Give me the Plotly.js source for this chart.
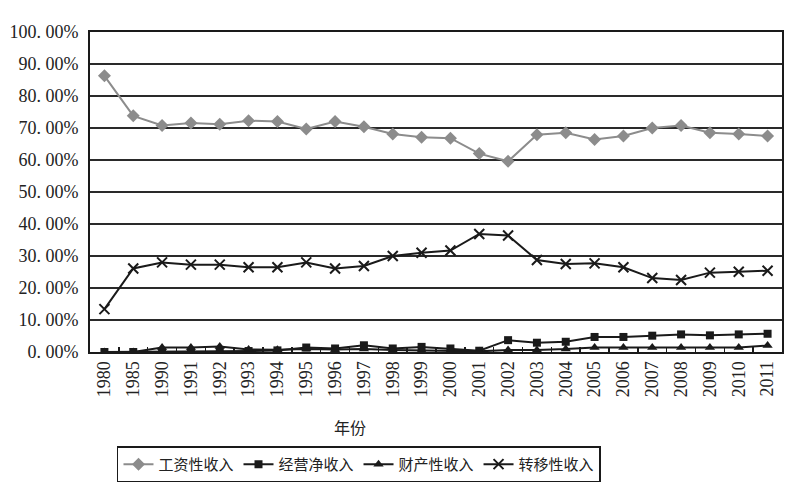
<!DOCTYPE html>
<html>
<head>
<meta charset="utf-8">
<script src="https://cdn.plot.ly/plotly-3.0.1.min.js"></script>
<style>html,body{margin:0;padding:0;background:#fff;}#chart{width:810px;height:500px;}</style>
</head>
<body>
<div id="chart"></div>
<script>
var years = ['1980','1985','1990','1991','1992','1993','1994','1995','1996','1997','1998','1999','2000','2001','2002','2003','2004','2005','2006','2007','2008','2009','2010','2011'];
var wageIncome = [86.3,73.8,70.8,71.6,71.2,72.3,72.0,69.7,72.0,70.4,68.1,67.1,66.8,62.0,59.6,67.9,68.5,66.4,67.5,70.0,70.8,68.5,68.1,67.5];
var businessIncome = [0.0,0.0,0.2,0.2,0.2,0.3,0.5,1.4,1.1,2.1,1.1,1.6,1.1,0.4,3.7,2.9,3.2,4.7,4.7,5.1,5.5,5.2,5.5,5.7];
var propertyIncome = [0.0,0.0,1.4,1.4,1.7,0.8,0.7,0.9,0.8,0.9,0.6,0.5,0.4,0.2,0.6,0.6,0.9,1.4,1.4,1.4,1.4,1.4,1.4,2.0];
var transferIncome = [13.4,26.1,28.0,27.3,27.3,26.5,26.5,28.0,26.1,26.9,30.0,31.0,31.7,36.9,36.4,28.75,27.5,27.7,26.5,23.1,22.5,24.8,25.1,25.4];
var seriesNames = ['工资性收入','经营净收入','财产性收入','转移性收入'];
var yTickVals = [0,10,20,30,40,50,60,70,80,90,100];
var yTickText = ['0. 00%','10. 00%','20. 00%','30. 00%','40. 00%','50. 00%','60. 00%','70. 00%','80. 00%','90. 00%','100. 00%'];
var xAxisTitle = '年份';

var serif = 'Liberation Serif, Noto Sans CJK SC, serif';
var cjk = 'Noto Sans CJK SC, sans-serif';

var traces = [
  {x: years, y: wageIncome, name: seriesNames[0], type: 'scatter', mode: 'lines+markers',
   line: {color: '#8c8c8c', width: 2}, marker: {symbol: 'diamond', size: 10, color: '#8c8c8c'}},
  {x: years, y: businessIncome, name: seriesNames[1], type: 'scatter', mode: 'lines+markers',
   line: {color: '#1a1a1a', width: 2}, marker: {symbol: 'square', size: 8, color: '#1a1a1a'}},
  {x: years, y: propertyIncome, name: seriesNames[2], type: 'scatter', mode: 'lines+markers',
   line: {color: '#1a1a1a', width: 2}, marker: {symbol: 'triangle-up', size: 9, color: '#1a1a1a'}},
  {x: years, y: transferIncome, name: seriesNames[3], type: 'scatter', mode: 'lines+markers',
   line: {color: '#1a1a1a', width: 2}, marker: {symbol: 'x-thin-open', size: 10, color: '#1a1a1a', line: {width: 2, color: '#1a1a1a'}}}
];

var layout = {
  width: 810, height: 500,
  margin: {l: 90, r: 28, t: 32, b: 148},
  paper_bgcolor: '#fff', plot_bgcolor: '#fff',
  showlegend: true,
  xaxis: {
    type: 'category', categoryorder: 'array', categoryarray: years,
    range: [-0.5, years.length - 0.5], autorange: false,
    tickangle: -90, tickson: 'boundaries', ticks: 'inside', ticklen: 5, tickwidth: 1.5, tickcolor: '#1a1a1a',
    showline: true, linecolor: '#1a1a1a', linewidth: 2, mirror: true,
    showgrid: false, zeroline: false,
    tickfont: {family: serif, size: 18, color: '#222'},
    fixedrange: true
  },
  yaxis: {
    range: [0, 100], autorange: false, tickvals: yTickVals, ticktext: yTickText,
    showline: true, linecolor: '#1a1a1a', linewidth: 2, mirror: true,
    showgrid: true, gridcolor: '#2a2a2a', gridwidth: 1.5, zeroline: false,
    ticks: '', ticklabelstandoff: 6,
    tickfont: {family: serif, size: 18, color: '#222'},
    fixedrange: true
  },
  legend: {
    orientation: 'h', x: 0.039, xanchor: 'left', y: -0.295, yanchor: 'top',
    bordercolor: '#1a1a1a', borderwidth: 1.5,
    font: {family: cjk, size: 15, color: '#222'},
    itemwidth: 30, tracegroupgap: 0
  },
  annotations: [
    {text: xAxisTitle, xref: 'paper', yref: 'paper', x: (350 - 90) / 692, y: (352 - 427) / 320,
     xanchor: 'center', yanchor: 'middle', showarrow: false, font: {family: cjk, size: 16, color: '#222'}}
  ]
};

Plotly.newPlot('chart', traces, layout, {displayModeBar: false, staticPlot: true});
</script>
</body>
</html>
